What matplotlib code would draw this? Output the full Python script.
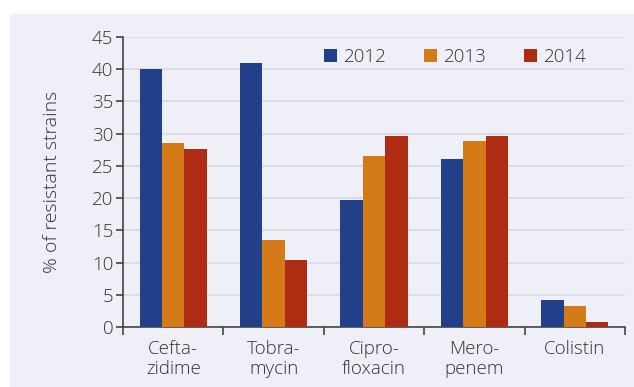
import matplotlib
matplotlib.use('Agg')
import matplotlib.pyplot as plt
import numpy as np
from matplotlib.patches import Rectangle

drugs = ['Cefta-\nzidime', 'Tobra-\nmycin', 'Cipro-\nfloxacin', 'Mero-\npenem', 'Colistin']
years = ['2012', '2013', '2014']
r2012 = [40.0, 41.0, 19.7, 26.0, 4.3]
r2013 = [28.5, 13.5, 26.5, 28.9, 3.3]
r2014 = [27.6, 10.4, 29.7, 29.7, 0.8]
colors = ['#22408a', '#d47a16', '#ae2d12']

plt.rcParams['font.family'] = ['Open Sans', 'DejaVu Sans']
plt.rcParams['font.weight'] = 'light'
plt.rcParams['axes.labelweight'] = 'light'
bg = '#efeff8'
txt = '#333333'

fig = plt.figure(figsize=(6.34, 3.87), dpi=100, facecolor='white')
fig.patches.append(Rectangle((10/634, 0), 1, 1 - 14/387, transform=fig.transFigure,
                             facecolor=bg, edgecolor='none', zorder=-1))
ax = fig.add_axes([123/634, 1 - 327.3/387, 502/634, 290.6/387])
ax.set_facecolor(bg)

x = np.arange(len(drugs))
w = 0.223
for i, (vals, c, yr) in enumerate(zip([r2012, r2013, r2014], colors, years)):
    ax.bar(x + (i - 1) * w, vals, w, color=c, label=yr, zorder=3)

ax.set_xlim(-0.5, len(drugs) - 0.5)
ax.set_ylim(0, 45)
ax.set_yticks(np.arange(0, 46, 5))
ax.yaxis.grid(True, color='#d9d9e0', linewidth=1.2, zorder=0)
ax.set_xticks(x)
ax.set_xticklabels(drugs, fontsize=13.5, color=txt, linespacing=1.15)
ax.set_xticks(np.arange(-0.5, len(drugs)), minor=True)
ax.tick_params(axis='x', which='major', length=0, pad=9)
ax.tick_params(axis='x', which='minor', length=6, width=1.2, color='#444444')
ax.tick_params(axis='y', length=5, width=1.2, color='#444444', labelsize=13.5,
               labelcolor=txt, pad=2)
for s in ['top', 'right']:
    ax.spines[s].set_visible(False)
for s in ['left', 'bottom']:
    ax.spines[s].set_color('#444444')
    ax.spines[s].set_linewidth(1.2)

ax.set_ylabel('% of resistant strains', fontsize=14, color=txt, labelpad=22)

ax.legend(loc='upper left', bbox_to_anchor=(0.367, 1.02), ncol=3, frameon=False,
          fontsize=13.5, handlelength=0.7, handleheight=0.7, handletextpad=0.35,
          columnspacing=2.0, labelcolor=txt)

fig.savefig('out.png', dpi=100, facecolor='white')
